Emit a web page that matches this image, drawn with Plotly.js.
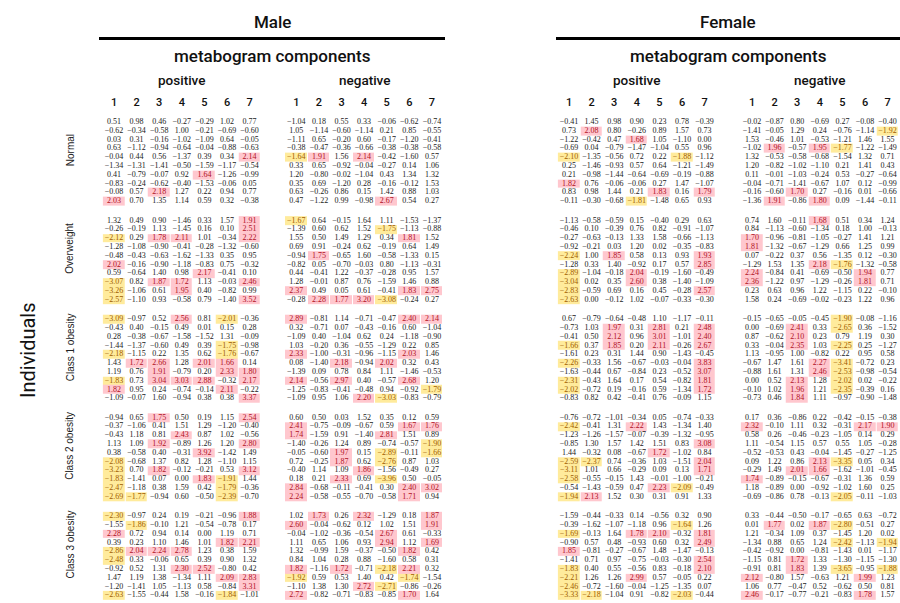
<!DOCTYPE html>
<html>
<head>
<meta charset="utf-8">
<script src="https://cdn.plot.ly/plotly-3.0.1.min.js"></script>
<style>
  html, body { margin: 0; padding: 0; background: #fff; }
  #chart { width: 900px; height: 603px; }
</style>
</head>
<body>
<div id="chart"></div>
<script>
// Standardised metabogram component scores (z) per individual,
// grouped by BMI class, split by sex and by positive / negative components.
const classes = ["Normal", "Overweight", "Class 1 obesity", "Class 2 obesity", "Class 3 obesity"];
const components = [1, 2, 3, 4, 5, 6, 7];

// ---------- Male, positive components ----------
const malePosNormal = [
  [0.51, 0.98, 0.46, -0.27, -0.29, 1.02, 0.77],
  [-0.62, -0.34, -0.58, 1.00, -0.21, -0.69, -0.60],
  [0.03, 0.31, -0.16, -1.02, -1.09, 0.64, -0.05],
  [0.63, -1.12, -0.94, -0.64, -0.04, -0.88, -0.63],
  [-0.04, 0.44, 0.56, -1.37, 0.39, 0.34, 2.14],
  [-1.34, -1.31, -1.41, -0.50, -1.59, -1.17, -0.54],
  [0.41, -0.79, -0.07, 0.92, 1.64, -1.26, -0.99],
  [-0.83, -0.24, -0.62, -0.40, -1.53, -0.06, 0.05],
  [-0.08, 0.57, 2.18, 1.27, 0.22, 0.94, 0.77],
  [2.03, 0.70, 1.35, 1.14, 0.59, 0.32, -0.38]
];
const malePosOverweight = [
  [1.32, 0.49, 0.90, -1.46, 0.33, 1.57, 1.91],
  [-0.26, -0.19, 1.13, -1.45, 0.16, 0.10, 2.51],
  [-2.12, 0.29, 1.78, 2.11, 1.01, -0.34, 2.22],
  [-1.28, -1.08, -0.90, -0.41, -0.28, -1.32, -0.60],
  [-0.48, -0.43, -0.63, -1.62, -1.33, 0.35, 0.95],
  [2.02, -0.16, -0.90, -1.18, -0.83, 0.75, -0.32],
  [0.59, -0.64, 1.40, 0.98, 2.17, -0.41, 0.10],
  [-3.07, 0.82, 1.87, 1.72, 1.13, -0.03, 2.46],
  [-3.26, -1.06, 0.61, 1.95, 0.40, -0.82, 0.99],
  [-2.57, -1.10, 0.93, -0.58, 0.79, -1.40, 3.52]
];
const malePosClass1 = [
  [-3.09, -0.97, 0.52, 2.56, 0.81, -2.01, -0.36],
  [-0.43, 0.40, -0.15, 0.49, 0.01, 0.15, 0.28],
  [0.28, -0.38, -0.67, -1.58, -1.52, 1.31, -0.09],
  [-1.44, -1.37, -0.60, 0.49, 0.39, -1.75, -0.98],
  [-2.18, -1.15, 0.22, 1.35, 0.62, -1.76, -0.67],
  [1.43, 1.72, 2.66, 1.28, 2.01, 1.66, 0.14],
  [1.19, 0.76, 1.91, -0.79, 0.20, 2.33, 1.80],
  [-1.83, 0.73, 3.04, 3.03, 2.88, -0.32, 2.17],
  [1.82, 0.95, 0.24, -0.74, -0.14, 2.11, -0.22],
  [-1.09, -0.07, 1.60, -0.94, 0.38, 0.38, 3.37]
];
const malePosClass2 = [
  [-0.94, 0.65, 1.75, 0.50, 0.19, 1.15, 2.54],
  [-0.37, -1.06, 0.41, 1.51, 1.29, -1.20, -0.40],
  [-0.43, 1.18, 0.81, 2.43, 0.87, 1.02, -0.56],
  [1.13, 1.09, 1.92, -0.89, 1.26, 1.20, 2.80],
  [0.38, -0.58, 0.40, -0.31, 3.92, -1.42, 1.49],
  [-2.08, -0.68, 1.37, 0.82, 1.28, -1.10, 1.15],
  [-3.23, 0.70, 1.82, -0.12, -0.21, 0.53, 3.12],
  [-1.83, -1.41, 0.07, 0.00, 1.83, -1.91, 1.44],
  [-2.47, -1.18, 0.38, 1.59, 0.42, -1.79, -0.36],
  [-2.69, -1.77, -0.94, 0.60, -0.50, -2.39, -0.70]
];
const malePosClass3 = [
  [-2.30, -0.97, 0.24, 0.19, -0.21, -0.96, 1.88],
  [-1.55, -1.86, -0.10, 1.21, -0.54, -0.78, 0.17],
  [2.28, 0.72, 0.94, 0.14, 0.00, 1.19, 0.71],
  [0.39, 0.23, 1.10, 1.46, 1.01, 1.82, 2.21],
  [-2.86, 2.04, 2.24, 2.78, 1.23, 0.38, 1.59],
  [-2.48, 0.33, -0.06, 0.65, 0.39, 0.90, 1.32],
  [-0.92, 0.52, 1.31, 2.30, 2.52, -0.80, 0.42],
  [1.47, 1.19, 1.38, -1.34, 1.11, 2.09, 2.83],
  [-1.20, -1.41, 1.05, -1.13, 0.58, -0.84, 3.31],
  [-2.63, -1.55, -0.44, 1.58, -0.16, -1.84, -1.01]
];

// ---------- Male, negative components ----------
const maleNegNormal = [
  [-1.04, 0.18, 0.55, 0.33, -0.06, -0.62, -0.74],
  [1.05, -1.14, -0.60, -1.14, 0.21, 0.85, -0.55],
  [-1.11, 0.65, -0.20, 0.60, -0.17, -1.20, -0.41],
  [-0.38, -0.47, -0.36, -0.66, -0.38, -0.38, -0.58],
  [-1.64, 1.91, 1.56, 2.14, -0.42, -1.60, 0.57],
  [0.33, 0.65, -0.92, -0.04, -0.27, 0.14, 1.06],
  [1.20, -0.80, -0.02, -1.04, 0.43, 1.34, 1.32],
  [0.35, 0.69, -1.20, 0.28, -0.16, -0.12, 1.53],
  [0.63, -0.26, 0.86, 0.15, 1.42, 0.88, 1.03],
  [0.47, -1.22, 0.99, -0.98, 2.67, 0.54, 0.27]
];
const maleNegOverweight = [
  [-1.67, 0.64, -0.15, 1.64, 1.11, -1.53, -1.37],
  [-1.39, 0.60, 0.62, 1.52, -1.75, -1.13, -0.88],
  [1.55, 0.50, 1.49, 1.29, 0.34, 1.81, 1.52],
  [0.69, 0.91, -0.24, 0.62, -0.19, 0.64, 1.49],
  [-0.94, 1.75, -0.65, 1.60, -0.58, -1.33, 0.15],
  [-0.82, 0.05, -0.70, -0.03, 0.80, -1.13, -0.31],
  [0.44, -0.41, 1.22, -0.37, -0.28, 0.95, 1.57],
  [1.28, -0.01, 0.87, 0.76, -1.59, 1.46, 0.88],
  [2.37, 0.49, 0.05, 0.61, -0.41, 1.83, 2.75],
  [-0.28, 2.28, 1.77, 3.20, -3.08, -0.24, 0.27]
];
const maleNegClass1 = [
  [2.89, -0.81, 1.14, -0.71, -0.47, 2.40, 2.14],
  [0.32, -0.71, 0.07, -0.43, -0.16, 0.60, -1.04],
  [-1.09, 0.40, -1.04, 0.62, 0.24, -1.18, -0.90],
  [1.03, -0.20, 0.36, -0.55, -1.29, 0.22, 0.85],
  [2.33, -1.00, -0.31, -0.96, -1.15, 2.03, 1.46],
  [0.08, -1.40, 2.18, -0.94, 2.02, 0.32, 0.43],
  [-1.39, 0.09, 0.78, 0.84, 1.11, -1.46, -0.53],
  [2.14, -0.56, 2.97, 0.40, -0.57, 2.68, 1.20],
  [-1.25, -0.83, -0.41, -0.48, 0.94, -0.92, -1.79],
  [-1.09, 0.95, 1.06, 2.20, -3.03, -0.83, -0.79]
];
const maleNegClass2 = [
  [0.60, 0.50, 0.03, 1.52, 0.35, 0.12, 0.59],
  [2.41, -0.75, -0.09, -0.67, 0.59, 1.67, 1.76],
  [1.74, -1.59, 0.91, -1.40, 2.81, 1.51, 0.89],
  [-1.40, -0.26, 1.24, 0.89, -0.74, -0.57, -1.90],
  [-0.05, -0.60, 1.97, 0.15, -2.89, -0.11, -1.66],
  [0.72, -0.25, 1.87, 0.62, -2.76, 0.87, 1.03],
  [-0.40, 1.14, 1.09, 1.86, -1.56, -0.49, 0.27],
  [0.18, 0.21, 2.33, 0.69, -3.96, 0.50, -0.05],
  [2.84, -0.68, -0.11, -0.41, 0.30, 2.40, 3.02],
  [2.24, -0.58, -0.55, -0.70, -0.58, 1.71, 0.94]
];
const maleNegClass3 = [
  [1.02, 1.73, 0.26, 2.32, -1.29, 0.18, 1.87],
  [2.60, -0.04, -0.62, 0.12, 1.02, 1.51, 1.91],
  [-0.04, -1.02, -0.36, -0.54, 2.67, 0.61, -0.33],
  [1.11, 0.65, 1.06, 0.93, 2.94, 1.12, 1.69],
  [1.32, -0.99, 1.59, -0.37, -0.50, 1.82, 0.42],
  [0.84, 1.04, 0.28, 0.88, -1.60, 0.58, 0.31],
  [1.82, -1.16, 1.72, -0.71, -2.18, 2.21, 0.32],
  [-1.92, 0.59, 0.53, 1.40, 0.42, -1.74, -1.54],
  [-1.10, 1.38, 1.30, 2.72, -2.71, -0.86, -0.26],
  [2.72, -0.82, -0.71, -0.83, -0.85, 1.70, 1.64]
];

// ---------- Female, positive components ----------
const femalePosNormal = [
  [-0.41, 1.45, 0.98, 0.90, 0.23, 0.78, -0.39],
  [0.73, 2.08, 0.80, -0.26, 0.89, 1.57, 0.73],
  [-1.22, -0.42, 0.47, 1.68, 1.05, -1.10, 0.00],
  [-0.69, 0.04, -0.79, -1.47, -1.04, 0.55, 0.96],
  [-2.10, -1.35, -0.56, 0.72, 0.22, -1.88, -1.12],
  [0.25, -1.46, -0.93, 0.57, 0.64, -1.21, -1.49],
  [0.21, -0.98, -1.44, -0.64, -0.69, -0.19, -0.88],
  [1.82, 0.76, -0.06, -0.06, 0.27, 1.47, -1.07],
  [0.83, 0.98, 1.44, 0.21, 1.83, 0.16, 1.79],
  [-0.11, -0.30, -0.68, -1.81, -1.48, 0.65, 0.93]
];
const femalePosOverweight = [
  [-1.13, -0.58, -0.59, 0.15, -0.40, 0.29, 0.63],
  [-0.46, 0.10, -0.39, 0.76, 0.82, -0.91, -1.07],
  [-0.27, -0.63, -0.13, 1.33, 1.58, -0.66, -1.13],
  [-0.92, -0.21, 0.03, 1.20, 0.02, -0.35, -0.83],
  [-2.24, 1.00, 1.85, 0.58, 0.13, 0.93, 1.93],
  [-1.28, 0.33, 1.40, -0.92, 0.17, 0.57, 2.85],
  [-2.89, -1.04, -0.18, 2.04, -0.19, -1.60, -0.49],
  [-3.04, 0.02, 0.35, 2.60, 0.38, -1.40, -1.09],
  [-2.83, -0.59, 0.69, 0.16, 0.45, -0.28, 2.57],
  [-2.63, 0.00, -0.12, 1.02, -0.07, -0.33, -0.30]
];
const femalePosClass1 = [
  [0.67, -0.79, -0.64, -0.48, 1.10, -1.17, -0.11],
  [-0.73, 1.03, 1.97, 0.31, 2.81, 0.21, 2.48],
  [-0.41, 0.50, 2.12, 0.96, 3.01, -1.01, 2.40],
  [-1.66, 0.37, 1.85, 0.20, 2.11, -0.26, 2.67],
  [-1.61, 0.23, 0.31, 1.44, 0.90, -1.43, -0.45],
  [-2.26, -0.33, 1.56, -0.67, -0.03, -0.04, 3.83],
  [-1.63, -0.44, 0.67, -0.84, 0.23, -0.52, 3.07],
  [-2.31, -0.43, 1.64, 0.17, 0.54, -0.82, 1.81],
  [-2.02, -0.72, 0.19, -0.16, 0.59, -1.34, 1.72],
  [-0.83, 0.82, 0.42, -0.41, 0.76, -0.09, 1.15]
];
const femalePosClass2 = [
  [-0.76, -0.72, -1.01, -0.34, 0.05, -0.74, -0.33],
  [-2.42, -0.41, 1.31, 2.22, 1.43, -1.34, 1.40],
  [-1.23, -1.26, -1.57, -0.07, -0.39, -1.32, -0.95],
  [-0.85, 1.30, 1.57, 1.42, 1.51, 0.83, 3.08],
  [1.44, -0.32, 0.08, -0.67, 1.72, -1.02, 0.84],
  [-2.59, -2.37, 0.74, -0.36, 1.03, -1.51, 2.04],
  [-3.11, 1.01, 0.66, -0.29, 0.09, 0.13, 1.71],
  [-2.58, -0.55, -0.15, 1.43, -0.01, -1.00, -0.21],
  [-0.54, -1.43, -0.59, 0.47, 2.23, -2.09, -0.49],
  [-1.94, 2.13, 1.52, 0.30, 0.31, 0.91, 1.33]
];
const femalePosClass3 = [
  [-1.59, -0.44, -0.33, 0.14, -0.56, 0.32, 0.90],
  [-0.39, -1.62, -1.07, -1.18, 0.96, -1.64, 1.26],
  [-1.69, -0.13, 1.64, 1.78, 2.10, -0.32, 1.81],
  [-0.90, 0.57, 0.48, -0.93, 0.60, 0.32, 2.49],
  [1.85, -0.81, -0.27, -0.67, 1.48, -1.47, -0.13],
  [-1.41, 0.71, 0.97, -0.75, -0.03, -0.30, 2.54],
  [-1.83, 0.40, 0.55, -0.56, 0.83, -0.18, 2.10],
  [-2.21, 1.26, 1.26, 2.99, 0.57, -0.05, 0.22],
  [-2.46, -0.72, -1.60, -0.04, -1.25, -1.35, 0.07],
  [-3.33, -2.18, -1.04, 0.91, -0.82, -2.03, -0.44]
];

// ---------- Female, negative components ----------
const femaleNegNormal = [
  [-0.02, -0.87, 0.80, -0.69, 0.27, -0.08, -0.40],
  [-1.41, -0.05, 1.29, 0.24, -0.76, -1.14, -1.92],
  [1.53, -0.46, 1.01, -0.53, -1.21, 1.46, 1.55],
  [-1.02, 1.96, -0.57, 1.95, -1.77, -1.22, -1.49],
  [1.32, -0.53, -0.58, -0.68, -1.54, 1.32, 0.71],
  [1.20, -0.82, -1.02, -1.10, 0.21, 1.41, 0.43],
  [0.11, -0.01, -1.03, -0.24, 0.53, -0.27, -0.64],
  [-0.04, -0.71, -1.41, -0.67, 1.07, 0.12, -0.99],
  [-0.16, -0.60, 1.70, 0.27, -0.16, 0.01, -0.66],
  [-1.36, 1.91, -0.86, 1.80, 0.09, -1.44, -0.11]
];
const femaleNegOverweight = [
  [0.74, 1.60, -0.11, 1.68, 0.51, 0.34, 1.24],
  [0.84, -1.13, -0.60, -1.34, 0.18, 1.00, -0.13],
  [1.70, -0.96, -0.81, -1.05, -0.27, 1.41, 1.21],
  [1.81, -1.32, -0.67, -1.29, 0.66, 1.25, 0.99],
  [0.07, -0.22, 0.37, 0.56, -1.35, 0.12, -0.30],
  [-1.29, 1.53, 1.35, 2.18, -1.76, -1.32, -0.58],
  [2.24, -0.84, 0.41, -0.69, -0.50, 1.94, 0.77],
  [2.36, -1.22, 0.97, -1.29, -0.26, 1.81, 0.71],
  [0.23, 0.63, 0.96, 1.22, -1.15, 0.22, -0.10],
  [1.58, 0.24, -0.69, -0.02, -0.23, 1.22, 0.96]
];
const femaleNegClass1 = [
  [-0.15, -0.65, -0.05, -0.45, -1.90, -0.08, -1.16],
  [0.00, -0.69, 2.41, 0.33, -2.65, 0.36, -1.52],
  [0.87, -0.62, 2.10, 0.23, 0.79, 1.19, 0.30],
  [0.33, -0.04, 2.35, 1.03, -2.25, 0.25, -1.27],
  [1.13, -0.95, 1.00, -0.82, 0.22, 0.95, 0.58],
  [-0.67, 1.47, 1.61, 2.27, -3.41, -0.72, 0.23],
  [-0.88, 1.61, 1.31, 2.46, -2.53, -0.98, -0.54],
  [0.00, 0.52, 2.13, 1.28, -2.02, 0.02, -0.22],
  [-0.10, 1.02, 1.96, 1.21, -2.35, -0.39, 0.16],
  [-0.73, 0.46, 1.84, 1.11, -0.97, -0.90, -1.48]
];
const femaleNegClass2 = [
  [0.17, 0.36, -0.86, 0.22, -0.42, -0.15, -0.38],
  [2.32, -0.10, 1.11, 0.32, -0.31, 2.17, 1.90],
  [0.58, 0.26, -0.46, -0.23, -1.05, 0.14, 0.29],
  [1.11, -0.54, 1.15, 0.57, 0.55, 1.05, -0.28],
  [-0.52, -0.53, 0.43, -0.04, -1.45, -0.27, -1.25],
  [0.09, 1.22, 0.86, 2.13, -3.35, 0.05, 0.34],
  [-0.29, 1.49, 2.01, 1.66, -1.62, -1.01, -0.45],
  [1.74, -0.89, -0.15, -0.67, -0.31, 1.36, 0.59],
  [1.18, -0.89, 0.00, -0.92, -1.02, 1.60, 0.25],
  [-0.69, -0.86, 0.78, -0.13, -2.05, -0.11, -1.03]
];
const femaleNegClass3 = [
  [0.33, -0.44, -0.50, -0.17, -0.65, 0.63, -0.72],
  [0.01, 1.77, 0.02, 1.87, -2.80, -0.51, 0.27],
  [1.21, -0.34, 1.09, 0.37, -1.45, 1.20, 0.02],
  [-1.34, 0.88, 0.65, 1.24, -2.42, -1.13, -1.94],
  [-0.42, -0.92, 0.00, -0.81, -1.43, 0.01, -1.17],
  [-1.15, 0.81, 1.72, 1.33, -1.30, -1.15, -1.30],
  [-0.91, 0.81, 1.83, 1.39, -3.65, -0.95, -1.88],
  [2.12, -0.80, 1.57, -0.63, 1.21, 1.99, 1.23],
  [1.06, 0.77, -0.47, 0.52, -0.62, 0.50, 0.81],
  [2.46, -0.17, -0.77, -0.21, -0.83, 1.78, 1.57]
];

// Significance cut-off on |z|; cells shown as ±1.64 that still pass the
// unrounded test are listed as [block, class index, row, column].
const zCut = 1.645;
const borderlineSignificant = [
  ["malePos", 0, 6, 4],
  ["maleNeg", 0, 4, 0],
  ["femalePos", 4, 1, 5]
];

const blocks = [
  { key: "malePos",   xaxis: "x",  groups: [malePosNormal, malePosOverweight, malePosClass1, malePosClass2, malePosClass3] },
  { key: "maleNeg",   xaxis: "x2", groups: [maleNegNormal, maleNegOverweight, maleNegClass1, maleNegClass2, maleNegClass3] },
  { key: "femalePos", xaxis: "x3", groups: [femalePosNormal, femalePosOverweight, femalePosClass1, femalePosClass2, femalePosClass3] },
  { key: "femaleNeg", xaxis: "x4", groups: [femaleNegNormal, femaleNegOverweight, femaleNegClass1, femaleNegClass2, femaleNegClass3] }
];

// ---------- drawing ----------
const GROUP_STEP = 11.2;                 // rows per class block incl. spacer
const FILL_POS = "#ffc7ce", FILL_NEG = "#ffeb9c";
const TXT_POS = "#b0101f", TXT_NEG = "#a15c00", TXT = "#1a1a1a";

function fmt(v) {
  const s = Math.abs(v).toFixed(2);
  return (v < 0 && s !== "0.00" ? "\u2212" : "") + s;
}
function flag(blockKey, g, r, c, v) {
  const border = borderlineSignificant.some(b => b[0] === blockKey && b[1] === g && b[2] === r && b[3] === c);
  if (v >= zCut || (border && v > 0)) return 1;
  if (v <= -zCut || (border && v < 0)) return -1;
  return null;
}

const traces = [];
blocks.forEach(block => {
  const tx = [], ty = [], tt = [], tc = [];
  block.groups.forEach((rows, g) => {
    const yVals = rows.map((_, r) => g * GROUP_STEP + r);
    const z = rows.map((row, r) => row.map((v, c) => flag(block.key, g, r, c, v)));
    traces.push({
      type: "heatmap", xaxis: block.xaxis, yaxis: "y",
      x: components, y: yVals, z: z,
      zmin: -1, zmax: 1,
      colorscale: [[0, FILL_NEG], [0.499, FILL_NEG], [0.5, "rgba(255,255,255,0)"], [0.501, FILL_POS], [1, FILL_POS]],
      showscale: false, xgap: 1, ygap: 0, hoverinfo: "skip"
    });
    rows.forEach((row, r) => row.forEach((v, c) => {
      tx.push(components[c]);
      ty.push(yVals[r]);
      tt.push(fmt(v));
      const f = z[r][c];
      tc.push(f === 1 ? TXT_POS : f === -1 ? TXT_NEG : TXT);
    }));
  });
  traces.push({
    type: "scatter", mode: "text", xaxis: block.xaxis, yaxis: "y",
    x: tx, y: ty, text: tt,
    textposition: "middle center",
    textfont: { family: "Liberation Serif, Times New Roman, serif", size: 8, color: tc },
    hoverinfo: "skip", cliponaxis: false, showlegend: false
  });
});

const W = 900, H = 603;
const px = v => v / W;
const py = v => 1 - v / H;
const PLOT_TOP = 109;
const ROW0 = 122, ROW_PX = 8.8;

const headFont = { family: "Roboto, Inter, sans-serif", color: "#111", weight: 500 };
function xAxis(d0, d1) {
  return {
    domain: [px(d0), px(d1)], range: [0.5, 7.5], anchor: "y", side: "top",
    tickvals: components, ticktext: components.map(String), ticks: "",
    showgrid: false, zeroline: false, showline: false, fixedrange: true,
    tickfont: Object.assign({ size: 11 }, headFont)
  };
}

const layout = {
  width: W, height: H,
  margin: { l: 0, r: 0, t: 0, b: 0 },
  paper_bgcolor: "#fff", plot_bgcolor: "rgba(0,0,0,0)",
  showlegend: false,
  xaxis:  xAxis(102.7, 260.9),
  xaxis2: xAxis(285.0, 443.2),
  xaxis3: xAxis(557.7, 715.9),
  xaxis4: xAxis(740.7, 898.9),
  yaxis: {
    domain: [0, py(PLOT_TOP)],
    range: [(H - ROW0) / ROW_PX, (PLOT_TOP - ROW0) / ROW_PX],
    visible: false, fixedrange: true
  },
  shapes: [
    { type: "line", xref: "paper", yref: "paper", x0: px(99), x1: px(445), y0: py(38.5), y1: py(38.5), line: { color: "#000", width: 3 } },
    { type: "line", xref: "paper", yref: "paper", x0: px(556), x1: px(900), y0: py(38.5), y1: py(38.5), line: { color: "#000", width: 3 } }
  ],
  annotations: []
};

const A = layout.annotations;
[["Male", 272], ["Female", 728]].forEach(([t, x]) => {
  A.push({ text: t, xref: "paper", yref: "paper", x: px(x), y: py(22), showarrow: false,
           xanchor: "center", yanchor: "middle", font: Object.assign({ size: 17 }, headFont) });
  A.push({ text: "metabogram components", xref: "paper", yref: "paper", x: px(x), y: py(56), showarrow: false,
           xanchor: "center", yanchor: "middle", font: Object.assign({ size: 17 }, headFont) });
});
[["x", "positive"], ["x2", "negative"], ["x3", "positive"], ["x4", "negative"]].forEach(([ax, t]) => {
  A.push({ text: t, xref: ax, yref: "paper", x: 4, y: py(80), showarrow: false,
           xanchor: "center", yanchor: "middle", font: Object.assign({ size: 13.5 }, headFont) });
});
classes.forEach((c, g) => {
  A.push({ text: c, xref: "paper", yref: "y", x: px(70), y: g * GROUP_STEP + 3.2, textangle: -90,
           showarrow: false, xanchor: "center", yanchor: "middle",
           font: { family: "Liberation Sans, Arial, sans-serif", size: 10, color: "#222" } });
});
A.push({ text: "Individuals", xref: "paper", yref: "paper", x: px(28), y: py(350), textangle: -90,
         showarrow: false, xanchor: "center", yanchor: "middle",
         font: { family: "Roboto, Inter, sans-serif", size: 20, color: "#111" } });

Plotly.newPlot("chart", traces, layout, { staticPlot: true, displayModeBar: false });
</script>
</body>
</html>
